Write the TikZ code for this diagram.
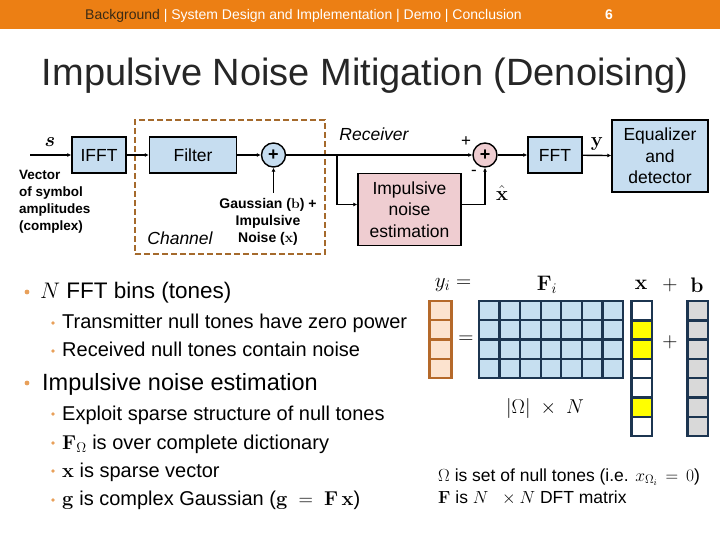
\documentclass[tikz,border=0pt]{standalone}
\usepackage{fix-cm}
\usepackage{bm}
\usepackage[no-math]{fontspec}
\setmainfont{Liberation Sans}
\usetikzlibrary{arrows.meta,calc}
\definecolor{hdr}{HTML}{EC7F14}
\definecolor{hdrdark}{HTML}{3A2A14}
\definecolor{titlec}{HTML}{262626}
\definecolor{bulc}{HTML}{E8A05A}
\definecolor{blueF}{HTML}{C6DDF0}
\definecolor{pinkF}{HTML}{EFCDD1}
\definecolor{brownD}{HTML}{A56A2C}
\definecolor{navy}{HTML}{1C3550}
\definecolor{cellB}{HTML}{C6DFF0}
\definecolor{yelC}{HTML}{FFFF00}
\definecolor{grayC}{HTML}{D9D9D9}
\definecolor{peach}{HTML}{FCE3CF}
\definecolor{orB}{HTML}{B5692A}
\tikzset{
  blk/.style={draw=black, line width=1.4pt, fill=blueF, inner sep=0pt,
    font=\fontsize{17.5}{21.5}\selectfont, align=center},
  sumc/.style={circle, draw=black, line width=1.4pt, minimum size=24pt, inner sep=0pt,
    font=\fontsize{18}{18}\selectfont\bfseries},
  conn/.style={line width=1.4pt, -{Latex[length=4pt,width=4pt]}},
  lab/.style={inner sep=0pt},
  bul/.style={anchor=base west, inner sep=0pt, text=black},
  cellS/.style={draw=navy, line width=2.4pt},
}
\begin{document}
\begin{tikzpicture}[x=1pt,y=-1pt]
\useasboundingbox (0,0) rectangle (720,540);
% header
\fill[hdr] (0,0) rectangle (720,29);
\node[lab, anchor=base west, font=\fontsize{14}{16}\selectfont] (hdrtxt) at (85,20)
  {\textcolor{hdrdark}{Background} \textcolor{white}{| System Design and Implementation | Demo | Conclusion}};
\node[lab, anchor=base, font=\fontsize{14}{16}\selectfont\bfseries, text=white] (pnum) at (609,20) {6};
% title
\node[lab, anchor=base, font=\fontsize{38}{40}\selectfont, text=titlec] (title) at (365,86)
  {Impulsive Noise Mitigation (Denoising)};

% ---- block diagram ----
\node[draw=brownD, line width=2.6pt, dash pattern=on 6pt off 3pt, minimum width=190pt, minimum height=134pt, inner sep=0pt] (chan) at (230,187) {};
\node[blk, minimum width=54pt, minimum height=36pt] (ifft) at (99,155) {IFFT};
\node[blk, minimum width=87pt, minimum height=36pt] (filt) at (193,155) {Filter};
\node[sumc, fill=blueF] (s1) at (273.5,155) {+};
\node[blk, fill=pinkF, minimum width=103pt, minimum height=72pt] (ine) at (409.5,209.5) {Impulsive\\noise\\estimation};
\node[sumc, fill=pinkF] (s2) at (485,155) {+};
\node[blk, minimum width=54pt, minimum height=36pt] (fft) at (555,155) {FFT};
\node[blk, minimum width=96pt, minimum height=72pt] (eq) at (660,156) {Equalizer\\and\\detector};

\coordinate (sin) at (30,155);
\coordinate (nz) at (273.5,193);
\coordinate (br) at (337,155);

\draw[conn] (sin) -- (ifft);
\draw[conn] (ifft) -- (filt);
\draw[conn] (filt) -- (s1);
\draw[conn] (nz) -- (s1);
\draw[conn] (s1) -- (s2);
\draw[conn] (br) |- ($(ine.west)+(0,-5)$);
\draw[conn] ($(ine.east)+(0,-5)$) -| (s2);
\draw[conn] (s2) -- (fft);
\draw[conn] (fft) -- (eq);

\node[lab, font=\fontsize{20}{20}\selectfont] (slab) at (50,142) {$\bm{s}$};
\node[lab, anchor=west, align=left, font=\fontsize{13.5}{17}\selectfont\bfseries] (vec) at (19,201.5)
  {Vector\\of symbol\\amplitudes\\(complex)};
\node[lab, align=center, font=\fontsize{14}{17}\selectfont\bfseries] (gauss) at (268,222)
  {Gaussian ($\mathbf{b}$) +\\Impulsive\\Noise ($\mathbf{x}$)};
\node[lab, font=\fontsize{17.5}{20}\selectfont\itshape] (chl) at (180,238) {Channel};
\node[lab, font=\fontsize{17.5}{20}\selectfont\itshape] (rcv) at (374,134) {Receiver};
\node[lab, font=\fontsize{17}{17}\selectfont] (plus) at (466,142) {+};
\node[lab, font=\fontsize{17}{17}\selectfont] (minus) at (474,173) {-};
\node[lab, font=\fontsize{20}{20}\selectfont] (xhat) at (502,193) {$\hat{\mathbf{x}}$};
\node[lab, font=\fontsize{20}{20}\selectfont] (ylab) at (597,144) {$\mathbf{y}$};

% ---- bullets ----
\fill[bulc] (27,292) circle (2.4pt);
\fill[bulc] (53,323) circle (1.9pt);
\fill[bulc] (53,351) circle (1.9pt);
\fill[bulc] (27,383) circle (2.4pt);
\fill[bulc] (53,414) circle (1.9pt);
\fill[bulc] (53,443) circle (1.9pt);
\fill[bulc] (53,471) circle (1.9pt);
\fill[bulc] (53,500) circle (1.9pt);
\node[bul, font=\fontsize{22.5}{26}\selectfont] (b1) at (40,298) {$N$ FFT bins (tones)};
\node[bul, font=\fontsize{20}{24}\selectfont] (b2) at (62,328) {Transmitter null tones have zero power};
\node[bul, font=\fontsize{20}{24}\selectfont] (b3) at (62,356) {Received null tones contain noise};
\node[bul, font=\fontsize{23.5}{26}\selectfont] (b4) at (42,390) {Impulsive noise estimation};
\node[bul, font=\fontsize{20}{24}\selectfont] (b5) at (62,420) {Exploit sparse structure of null tones};
\node[bul, font=\fontsize{20}{24}\selectfont] (b6) at (62,449) {$\mathbf{F}_\Omega$ is over complete dictionary};
\node[bul, font=\fontsize{20}{24}\selectfont] (b7) at (62,477) {$\mathbf{x}$ is sparse vector};
\node[bul, font=\fontsize{20}{24}\selectfont] (b8) at (62,505) {$\mathbf{g}$ is complex Gaussian ($\mathbf{g}\ =\ \mathbf{F}\,\mathbf{x}$)};

% ---- matrix equation ----
\foreach \r in {0,...,3} {
  \draw[draw=orB, line width=2.4pt, fill=peach] (429.5,{301+\r*19.25}) rectangle (451.5,{301+(\r+1)*19.25});
}
\foreach \c in {0,...,6} {
  \foreach \r in {0,...,3} {
    \draw[cellS, fill=cellB] ({479+\c*20.57},{301+\r*19.25}) rectangle ({479+(\c+1)*20.57},{301+(\r+1)*19.25});
  }
}
\foreach \r/\col in {0/white,1/yelC,2/yelC,3/white,4/white,5/yelC,6/white} {
  \draw[cellS, fill=\col] (631.5,{301+\r*19.3}) rectangle (652,{301+(\r+1)*19.3});
}
\foreach \r in {0,...,6} {
  \draw[cellS, fill=grayC] (687.5,{301+\r*19.3}) rectangle (708,{301+(\r+1)*19.3});
}
\node[lab, font=\fontsize{21}{21}\selectfont] (yi) at (453,285) {$y_i =$};
\node[lab, font=\fontsize{21}{21}\selectfont] (Fi) at (547,285) {$\mathbf{F}_i$};
\node[lab, font=\fontsize{21}{21}\selectfont] (xl) at (641,285) {$\mathbf{x}$};
\node[lab, font=\fontsize{21}{21}\selectfont] (pl1) at (670,285) {$+$};
\node[lab, font=\fontsize{21}{21}\selectfont] (bl) at (697,285) {$\mathbf{b}$};
\node[lab, font=\fontsize{21}{21}\selectfont] (eqs) at (466,340) {$=$};
\node[lab, font=\fontsize{21}{21}\selectfont] (pl2) at (670,342) {$+$};
\node[lab, font=\fontsize{20}{20}\selectfont] (dims) at (545,408) {$|\Omega|\ \times\ N$};
\node[bul, font=\fontsize{17.5}{20}\selectfont] (om) at (438,481) {$\Omega$ is set of null tones (i.e. $x_{\Omega_i}\,=\,0$)};
\node[bul, font=\fontsize{17.5}{20}\selectfont] (fdef) at (438,503) {$\mathbf{F}$ is $N\ \ \times N$ DFT matrix};
\end{tikzpicture}
\end{document}
